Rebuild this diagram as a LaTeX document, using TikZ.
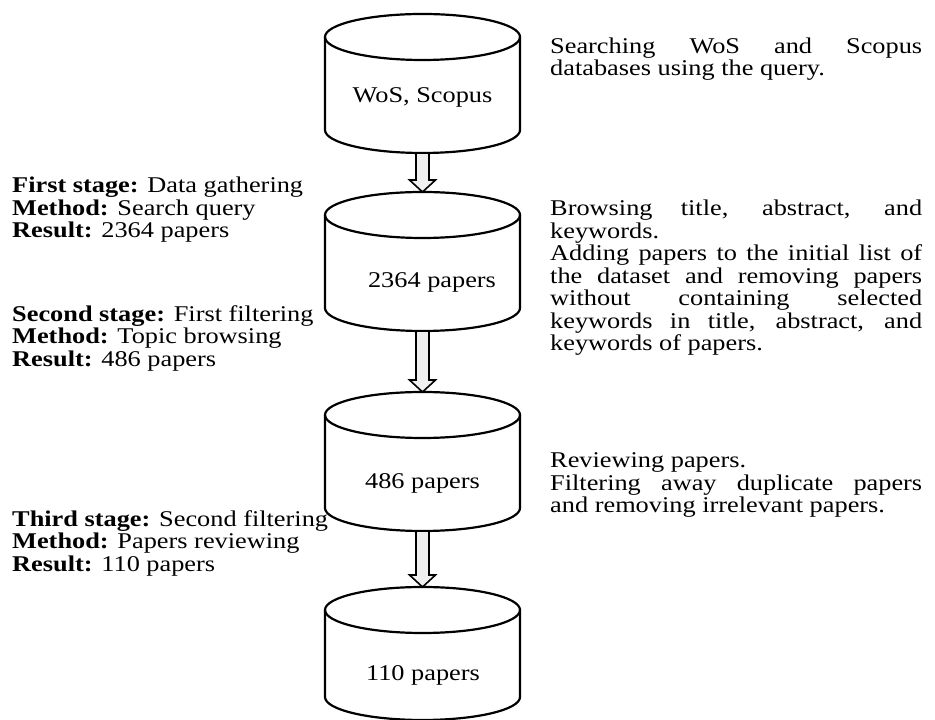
\documentclass[tikz,border=0pt]{standalone}
\usepackage{fontspec}
\setmainfont{Liberation Serif}[FakeStretch=1.17]
\usetikzlibrary{calc}

\newcommand{\jline}[1]{\makebox[372pt][s]{#1}}

\begin{document}
\begin{tikzpicture}[
  x=1pt, y=1pt,
  font=\fontsize{22.5}{22.5}\selectfont,
  drum/.style={draw=black, line width=2.2pt, fill=white},
  flow/.style={draw=black, line width=1.6pt, fill=black!6, line join=miter},
  plainSpace/.style={execute at begin node={\spaceskip=0pt\xspaceskip=0pt}},
  stageText/.style={anchor=west, align=left, inner sep=0pt, plainSpace},
  noteText/.style={anchor=west, align=left, inner sep=0pt, text width=372pt, plainSpace},
  drumLabel/.style={inner sep=0pt},
]
\useasboundingbox (0,0) rectangle (935,720);

% --- Databases (cylinders) ---
\foreach \name/\tp/\bt in {db1/683/590, db2/505/412, db3/305/212, db4/110/23}{
  \draw[drum] (325,\tp) -- (325,\bt)
    arc[start angle=180, end angle=360, x radius=97.5, y radius=23]
    -- (520,\tp) arc[start angle=0, end angle=180, x radius=97.5, y radius=23] -- cycle;
  \draw[drum, fill=none] (325,\tp)
    arc[start angle=180, end angle=360, x radius=97.5, y radius=23];
  \coordinate (\name-top) at (422.5,\tp+23);
  \coordinate (\name-bot) at (422.5,\bt-23);
}

% --- Labels inside the cylinders ---
\node[drumLabel] (wos)   at (422.5,623) {WoS, Scopus};
\node[drumLabel] (n2364) at (432,438)   {2364 papers};
\node[drumLabel] (n486)  at (422.5,237) {486 papers};
\node[drumLabel] (n110)  at (423,45)    {110 papers};

% --- Hollow block arrows between cylinders ---
\foreach \a/\b in {db1/db2, db2/db3, db3/db4}
  \draw[flow] let \p1=(\a-bot), \p2=(\b-top) in
    (\x1-6.5pt,\y1) -- (\x1-6.5pt,\y2+12pt) -- (\x1-13pt,\y2+12pt) -- (\x2,\y2)
    -- (\x1+13pt,\y2+12pt) -- (\x1+6.5pt,\y2+12pt) -- (\x1+6.5pt,\y1) -- cycle;

% --- Stage descriptions (left) ---
\node[stageText] (s1) at (12,510)
  {\textbf{First stage:} Data gathering\\\textbf{Method:} Search query\\\textbf{Result:} 2364 papers};
\node[stageText] (s2) at (12,382)
  {\textbf{Second stage:} First filtering\\\textbf{Method:} Topic browsing\\\textbf{Result:} 486 papers};
\node[stageText] (s3) at (12,177)
  {\textbf{Third stage:} Second filtering\\\textbf{Method:} Papers reviewing\\\textbf{Result:} 110 papers};

% --- Step notes (right) ---
\node[noteText] (q1) at (550,661)
  {\jline{Searching WoS and Scopus}\\databases using the query.};
\node[noteText] (q2) at (550,442)
  {\jline{Browsing title, abstract, and}\\keywords.\\
   \jline{Adding papers to the initial list of}\\
   \jline{the dataset and removing papers}\\
   \jline{without containing selected}\\
   \jline{keywords in title, abstract, and}\\
   keywords of papers.};
\node[noteText] (q3) at (550,235)
  {Reviewing papers.\\\jline{Filtering away duplicate papers}\\and removing irrelevant papers.};

\end{tikzpicture}
\end{document}
